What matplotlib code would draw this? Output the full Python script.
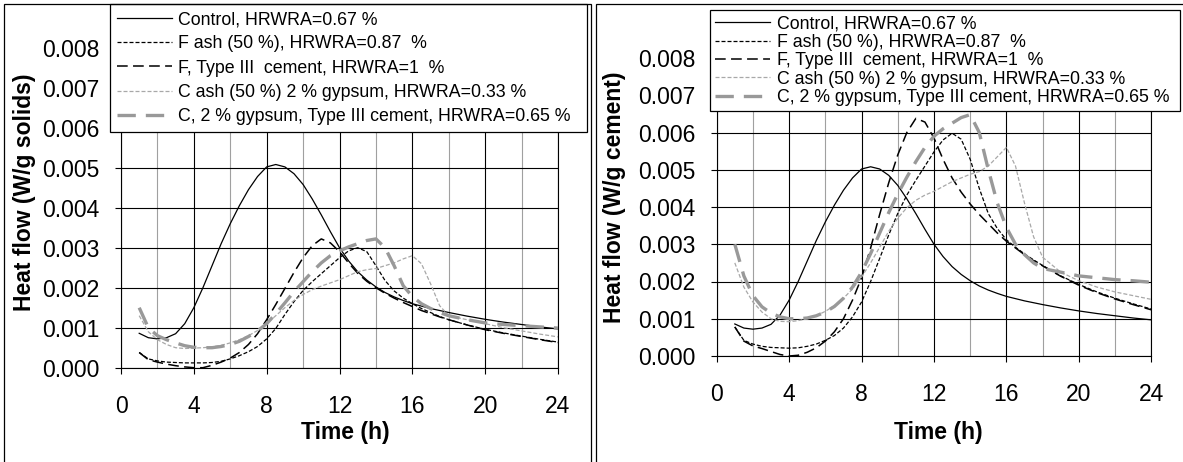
import matplotlib
matplotlib.use("Agg")
import matplotlib.pyplot as plt
from matplotlib.ticker import MultipleLocator, FormatStrFormatter
from matplotlib.patches import Rectangle

plt.rcParams["font.family"] = ["Liberation Sans", "DejaVu Sans"]

W, H = 1183, 462

# Time (h)
time_h = [1.0, 1.5, 2.0, 2.5, 3.0, 3.5, 4.0, 4.5, 5.0, 5.5, 6.0, 6.5, 7.0, 7.5,
          8.0, 8.5, 9.0, 9.5, 10.0, 10.5, 11.0, 11.5, 12.0, 12.5, 13.0, 13.5,
          14.0, 14.5, 15.0, 15.5, 16.0, 16.5, 17.0, 17.5, 18.0, 19, 20, 21, 22, 23, 24]

labels = [
    "Control, HRWRA=0.67 %",
    "F ash (50 %), HRWRA=0.87  %",
    "F, Type III  cement, HRWRA=1  %",
    "C ash (50 %) 2 % gypsum, HRWRA=0.33 %",
    "C, 2 % gypsum, Type III cement, HRWRA=0.65 %",
]

# Control mix (100 % cement): identical per g solids and per g cement
control = [0.00086, 0.00075, 0.00072, 0.00075, 0.00085, 0.00110, 0.00150, 0.00200,
           0.00255, 0.00310, 0.00360, 0.00405, 0.00445, 0.00478, 0.00502, 0.00508,
           0.00502, 0.00485, 0.00458, 0.00422, 0.00382, 0.00340, 0.00300, 0.00267,
           0.00240, 0.00219, 0.00202, 0.00188, 0.00177, 0.00168, 0.00160, 0.00154,
           0.00148, 0.00143, 0.00138, 0.00129, 0.00121, 0.00114, 0.00108, 0.00102,
           0.00097]

# Heat flow per g solids (W/g)
f_ash_solids = [0.00038, 0.00022, 0.00017, 0.00014, 0.00013, 0.00012, 0.00012, 0.00012,
                0.00013, 0.00016, 0.00022, 0.00030, 0.00040, 0.00053, 0.00072, 0.00098,
                0.00133, 0.00165, 0.00193, 0.00215, 0.00235, 0.00255, 0.00275, 0.00292,
                0.00300, 0.00290, 0.00255, 0.00218, 0.00192, 0.00174, 0.00160, 0.00148,
                0.00138, 0.00128, 0.00120, 0.00107, 0.00096, 0.00087, 0.00079, 0.00071,
                0.00064]
f_type3_solids = [0.00038, 0.00020, 0.00014, 0.00009, 0.00005, 0.00002, 0.00000, 0.00000,
                  0.00006, 0.00014, 0.00024, 0.00038, 0.00058, 0.00085, 0.00120, 0.00158,
                  0.00198, 0.00238, 0.00275, 0.00305, 0.00322, 0.00312, 0.00290, 0.00262,
                  0.00236, 0.00216, 0.00200, 0.00186, 0.00174, 0.00163, 0.00153, 0.00143,
                  0.00135, 0.00127, 0.00120, 0.00107, 0.00095, 0.00086, 0.00078, 0.00070,
                  0.00063]
c_ash_solids = [0.00130, 0.00090, 0.00070, 0.00058, 0.00050, 0.00048, 0.00049, 0.00050,
                0.00052, 0.00056, 0.00062, 0.00070, 0.00080, 0.00093, 0.00110, 0.00130,
                0.00150, 0.00168, 0.00183, 0.00195, 0.00204, 0.00212, 0.00220, 0.00230,
                0.00240, 0.00245, 0.00248, 0.00255, 0.00262, 0.00272, 0.00280, 0.00260,
                0.00210, 0.00155, 0.00130, 0.00120, 0.00110, 0.00100, 0.00092, 0.00084,
                0.00077]
c_type3_solids = [0.00150, 0.00100, 0.00080, 0.00070, 0.00062, 0.00055, 0.00051, 0.00050,
                  0.00050, 0.00053, 0.00058, 0.00066, 0.00078, 0.00092, 0.00110, 0.00135,
                  0.00162, 0.00190, 0.00215, 0.00240, 0.00262, 0.00280, 0.00292, 0.00302,
                  0.00310, 0.00318, 0.00322, 0.00300, 0.00255, 0.00205, 0.00178, 0.00160,
                  0.00148, 0.00138, 0.00130, 0.00120, 0.00112, 0.00108, 0.00105, 0.00102,
                  0.00099]

# Heat flow per g cement (W/g)
f_ash_cement = [0.00078, 0.00042, 0.00032, 0.00026, 0.00023, 0.00022, 0.00021, 0.00022,
                0.00026, 0.00032, 0.00042, 0.00055, 0.00075, 0.00105, 0.00145, 0.00200,
                0.00262, 0.00325, 0.00383, 0.00432, 0.00472, 0.00510, 0.00548, 0.00580,
                0.00598, 0.00582, 0.00528, 0.00450, 0.00382, 0.00342, 0.00312, 0.00292,
                0.00274, 0.00258, 0.00243, 0.00215, 0.00192, 0.00172, 0.00155, 0.00140,
                0.00126]
f_type3_cement = [0.00078, 0.00040, 0.00027, 0.00020, 0.00012, 0.00004, 0.00000, 0.00002,
                  0.00010, 0.00022, 0.00040, 0.00065, 0.00100, 0.00150, 0.00210, 0.00290,
                  0.00380, 0.00465, 0.00540, 0.00600, 0.00638, 0.00628, 0.00585, 0.00528,
                  0.00478, 0.00440, 0.00408, 0.00380, 0.00355, 0.00330, 0.00308, 0.00290,
                  0.00272, 0.00256, 0.00242, 0.00214, 0.00190, 0.00170, 0.00153, 0.00138,
                  0.00124]
c_ash_cement = [0.00250, 0.00185, 0.00145, 0.00118, 0.00100, 0.00093, 0.00092, 0.00095,
                0.00100, 0.00108, 0.00120, 0.00135, 0.00155, 0.00180, 0.00212, 0.00250,
                0.00292, 0.00335, 0.00370, 0.00398, 0.00418, 0.00432, 0.00442, 0.00455,
                0.00468, 0.00478, 0.00488, 0.00495, 0.00510, 0.00535, 0.00560, 0.00510,
                0.00410, 0.00320, 0.00265, 0.00225, 0.00202, 0.00185, 0.00172, 0.00162,
                0.00152]
c_type3_cement = [0.00300, 0.00215, 0.00162, 0.00132, 0.00115, 0.00105, 0.00100, 0.00100,
                  0.00102, 0.00108, 0.00118, 0.00133, 0.00155, 0.00185, 0.00225, 0.00275,
                  0.00330, 0.00385, 0.00435, 0.00480, 0.00522, 0.00560, 0.00590, 0.00610,
                  0.00625, 0.00640, 0.00648, 0.00600, 0.00500, 0.00410, 0.00345, 0.00300,
                  0.00272, 0.00250, 0.00235, 0.00225, 0.00215, 0.00210, 0.00205, 0.00202,
                  0.00198]

styles = [
    dict(color="black", lw=0.9, ls="-"),
    dict(color="black", lw=0.9, ls=(0, (3.2, 1.6))),
    dict(color="black", lw=1.1, ls=(0, (7.0, 3.5))),
    dict(color="#a8a8a8", lw=0.9, ls=(0, (3.2, 1.6))),
    dict(color="#999999", lw=2.4, ls=(0, (5.5, 3.0))),
]


def fx(px):
    return px / W


def fy(py):
    return 1 - py / H


fig = plt.figure(figsize=(W / 100, H / 100), dpi=100)

# panel frames
fig.add_artist(Rectangle((fx(4), fy(480)), fx(591) - fx(4), fy(4) - fy(480),
                         transform=fig.transFigure, fill=False, ec="black", lw=0.9))
fig.add_artist(Rectangle((fx(596), fy(480)), fx(1200) - fx(596), fy(4) - fy(480),
                         transform=fig.transFigure, fill=False, ec="black", lw=0.9))

panels = [
    dict(box=(121, 558, 367.7, 47.7),
         series=[control, f_ash_solids, f_type3_solids, c_ash_solids, c_type3_solids],
         ylabel="Heat flow (W/g solids)", ylab_pos=(25, 192), xlab_pos=(345, 433),
         legbox=(110, 587, 4), labelspacing=0.41, borderpad=0.4),
    dict(box=(716.7, 1151.3, 356, 58),
         series=[control, f_ash_cement, f_type3_cement, c_ash_cement, c_type3_cement],
         ylabel="Heat flow (W/g cement)", ylab_pos=(615, 197), xlab_pos=(938, 433),
         legbox=(710, 1180, 10), labelspacing=0.08, borderpad=0.3),
]

for p in panels:
    x0, x1, yb, yt = p["box"]
    ax = fig.add_axes([fx(x0), fy(yb), fx(x1) - fx(x0), fy(yt) - fy(yb)])
    for vals, lab, st in zip(p["series"], labels, styles):
        ax.plot(time_h, vals, label=lab, color=st["color"], lw=st["lw"],
                linestyle=st["ls"], zorder=3)
    ax.set_xlim(0, 24)
    ax.set_ylim(0, 0.008)
    ax.xaxis.set_major_locator(MultipleLocator(4))
    ax.xaxis.set_minor_locator(MultipleLocator(2))
    ax.yaxis.set_major_locator(MultipleLocator(0.001))
    ax.yaxis.set_major_formatter(FormatStrFormatter("%.3f"))
    ax.set_axisbelow(True)
    ax.grid(which="major", color="black", lw=0.8)
    ax.grid(which="minor", axis="x", color="#a0a0a0", lw=0.8)
    ax.tick_params(which="major", direction="out", length=4.3, width=0.8,
                   labelsize=16.5, color="black")
    ax.tick_params(axis="x", which="major", pad=15)
    ax.tick_params(axis="y", which="major", pad=11)
    ax.tick_params(which="minor", length=0)
    for s in ax.spines.values():
        s.set_color("black")
        s.set_linewidth(0.8)

    lx0, lx1, ltop = p["legbox"]
    leg = ax.legend(loc="upper left", mode="expand",
                    bbox_to_anchor=(fx(lx0), fy(ltop) - 0.2, fx(lx1) - fx(lx0), 0.2),
                    bbox_transform=fig.transFigure, borderaxespad=0,
                    fontsize=12.8, handlelength=3.1, handletextpad=0.35,
                    labelspacing=p["labelspacing"], borderpad=p["borderpad"],
                    frameon=True, fancybox=False, framealpha=1, edgecolor="black")
    leg.get_frame().set_linewidth(0.9)
    leg.set_zorder(10)

    fig.text(fx(p["ylab_pos"][0]), fy(p["ylab_pos"][1]), p["ylabel"], rotation=90,
             ha="center", va="center", fontsize=16.5, fontweight="bold")
    fig.text(fx(p["xlab_pos"][0]), fy(p["xlab_pos"][1]), "Time (h)",
             ha="center", va="center", fontsize=16.5, fontweight="bold")

fig.savefig("out.png", dpi=100)
